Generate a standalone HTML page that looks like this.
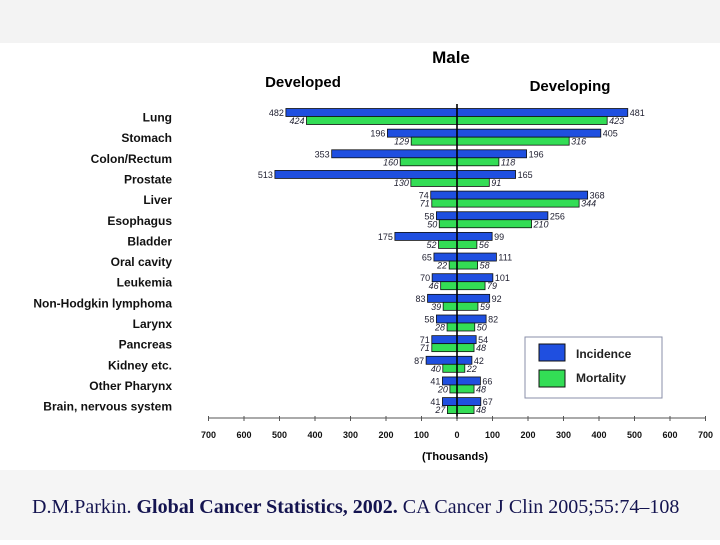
<!DOCTYPE html>
<html><head><meta charset="utf-8"><style>
body{margin:0;width:720px;height:540px;background:#fff;overflow:hidden;font-family:"Liberation Sans",Arial,sans-serif}
</style></head><body>
<svg width="720" height="540" xmlns="http://www.w3.org/2000/svg">
<rect x="0" y="0" width="720" height="43" fill="#f3f3f3"/>
<rect x="0" y="470" width="720" height="70" fill="#f5f5f5"/>
<text x="451" y="63" font-size="17" font-weight="bold" text-anchor="middle">Male</text>
<text x="303" y="87" font-size="15" font-weight="bold" text-anchor="middle">Developed</text>
<text x="570" y="91" font-size="15" font-weight="bold" text-anchor="middle">Developing</text>
<g id="bars"></g>
<g id="axis"></g>
<text x="455" y="460" font-size="11" font-weight="bold" text-anchor="middle">(Thousands)</text>
<g>
<rect x="525" y="337" width="137" height="61" fill="#fff" stroke="#8a8fa8" stroke-width="1"/>
<rect x="539" y="344" width="26" height="17" fill="#1f4fe0" stroke="#111"/>
<text x="576" y="358" font-size="12" font-weight="bold" fill="#222">Incidence</text>
<rect x="539" y="370" width="26" height="17" fill="#33dd55" stroke="#111"/>
<text x="576" y="382" font-size="12" font-weight="bold" fill="#222">Mortality</text>
</g>
<text x="32" y="513" font-size="20" fill="#141450" font-family="'Liberation Serif',serif">D.M.Parkin. <tspan font-weight="bold">Global Cancer Statistics, 2002.</tspan> CA Cancer J Clin 2005;55:74–108</text>
</svg>
<script>
const categories=["Lung","Stomach","Colon/Rectum","Prostate","Liver","Esophagus","Bladder","Oral cavity","Leukemia","Non-Hodgkin lymphoma","Larynx","Pancreas","Kidney etc.","Other Pharynx","Brain, nervous system"];
const devIncidence=[482,196,353,513,74,58,175,65,70,83,58,71,87,41,41];
const devMortality=[424,129,160,130,71,50,52,22,46,39,28,71,40,20,27];
const dvgIncidence=[481,405,196,165,368,256,99,111,101,92,82,54,42,66,67];
const dvgMortality=[423,316,118,91,344,210,56,58,79,59,50,48,22,48,48];
const ticks=[-700,-600,-500,-400,-300,-200,-100,0,100,200,300,400,500,600,700];
const NS="http://www.w3.org/2000/svg";
const x0=457,k=0.355;
const xs=v=>x0+v*k;
const rowY=i=>117.5+i*20.65;
function mk(t,a,p){const e=document.createElementNS(NS,t);for(const n in a)e.setAttribute(n,a[n]);if(typeof p==="string")e.textContent=p;return e;}
const bars=document.getElementById('bars'),axis=document.getElementById('axis');
categories.forEach((c,i)=>{
  const y=rowY(i);
  const lab=mk('text',{x:172,y:y+4,'font-size':12,'font-weight':'bold','text-anchor':'end',fill:'#111'},c);
  
  
  bars.appendChild(lab);
  const specs=[[devIncidence[i],-1,'#1f4fe0',y-9,'dev-incidence-bar',false],[dvgIncidence[i],1,'#1f4fe0',y-9,'developing-incidence-bar',false],[devMortality[i],-1,'#33dd55',y-1,'dev-mortality-bar',true],[dvgMortality[i],1,'#33dd55',y-1,'developing-mortality-bar',true]];
  specs.forEach(([v,s,col,top,nm,it])=>{
    const xa=xs(s*v);const xl=Math.min(x0,xa),w=Math.abs(xa-x0);
    const r=mk('rect',{x:xl,y:top,width:w,height:8,fill:col,stroke:'#111','stroke-width':0.8});
    
    
    bars.appendChild(r);
    const t=mk('text',{x:s<0?xa-2:xa+2,y:top+7.5,'font-size':9,'text-anchor':s<0?'end':'start',fill:'#223','font-style':it?'italic':'normal'},String(v));
    
    
    bars.appendChild(t);
  });
});
const zl=mk('line',{x1:x0,y1:104,x2:x0,y2:419,stroke:'#000','stroke-width':1.6});


bars.appendChild(zl);
const al=mk('line',{x1:xs(-700),y1:418,x2:xs(700),y2:418,stroke:'#555','stroke-width':1});


axis.appendChild(al);
ticks.forEach(t=>{
  const tk=mk('line',{x1:xs(t),y1:416,x2:xs(t),y2:421,stroke:'#555'});
  
  
  axis.appendChild(tk);
  const tl=mk('text',{x:xs(t),y:438,'font-size':9,'font-weight':'bold','text-anchor':'middle',fill:'#111'},String(Math.abs(t)));
  
  
  axis.appendChild(tl);
});
</script>
</body></html>
